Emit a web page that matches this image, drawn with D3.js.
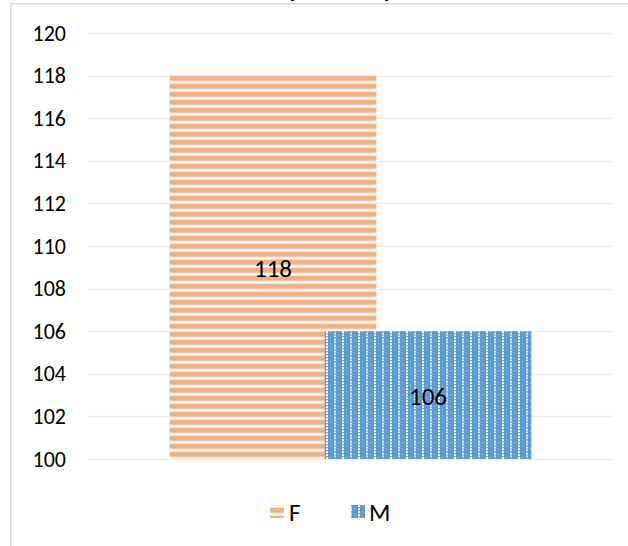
<!DOCTYPE html>
<html>
<head>
<meta charset="utf-8">
<script src="https://cdn.jsdelivr.net/npm/d3@7"></script>
<style>
html,body{margin:0;padding:0;background:#fff;}
svg{display:block;}
text{font-family:Carlito,Calibri,Lato,sans-serif;}
</style>
</head>
<body>
<svg id="chart" width="628" height="546"></svg>
<script>
// ---- data ----
const categories = [""];
const seriesNames = ["F", "M"];
const seriesValues = [118, 106];
const yTicks = [100, 102, 104, 106, 108, 110, 112, 114, 116, 118, 120];
const titleText = "Comparaison par sexe";

const svg = d3.select("#chart");
const W = 628, H = 546;
const plot = {left: 88, right: 613, top: 33, bottom: 459};

// frame of the chart area (cropped)
svg.append("path")
  .attr("d", `M10.75,${H + 5} L10.75,3.75 L${W + 5},3.75`)
  .attr("fill", "none").attr("stroke", "#D9D9D9").attr("stroke-width", 1.5);

// title (mostly cropped off above the picture)
const title = svg.append("text")
  .text(titleText)
  .attr("font-weight", "bold")
  .attr("font-size", 24)
  .attr("fill", "#000")
  .attr("y", -3.5);
(function placeTitle(){
  const node = title.node();
  const idx1 = titleText.indexOf("p");
  const idx2 = titleText.indexOf("p", idx1 + 1);
  let fs = 24;
  const d0 = node.getStartPositionOfChar(idx2).x - node.getStartPositionOfChar(idx1).x;
  fs = fs * 94 / d0;
  title.attr("font-size", fs);
  const x1 = node.getStartPositionOfChar(idx1).x;
  title.attr("x", 292 - x1 - fs * 0.1);
  title.attr("y", 2 - fs * 0.22);
})();

// scales
const y = d3.scaleLinear().domain([100, 120]).range([plot.bottom, plot.top]);
const xCat = d3.scaleBand().domain(categories).range([plot.left, plot.right]).padding(0);

// patterns
const defs = svg.append("defs");
const pF = defs.append("pattern").attr("id", "patF")
  .attr("patternUnits", "userSpaceOnUse")
  .attr("width", 8).attr("height", 8)
  .attr("y", y(seriesValues[0]));
pF.append("rect").attr("width", 8).attr("height", 8).attr("fill", "#fff");
pF.append("rect").attr("width", 8).attr("height", 5.3).attr("fill", "#F4B183");
pF.append("rect").attr("y", 5.3).attr("width", 8).attr("height", 0.7).attr("fill", "#FBE0CD");

const pM = defs.append("pattern").attr("id", "patM")
  .attr("patternUnits", "userSpaceOnUse")
  .attr("width", 16).attr("height", 6)
  .attr("x", 325).attr("y", y(seriesValues[1]));
pM.append("rect").attr("width", 16).attr("height", 6).attr("fill", "#5B9BD5");
pM.append("rect").attr("x", 1).attr("y", 0).attr("width", 2).attr("height", 2).attr("fill", "#fff");
pM.append("rect").attr("x", 1).attr("y", 3).attr("width", 2).attr("height", 2).attr("fill", "#fff");
pM.append("rect").attr("x", 9).attr("y", 1.5).attr("width", 2).attr("height", 2).attr("fill", "#fff").attr("opacity", 0.85);
pM.append("rect").attr("x", 9).attr("y", 4.5).attr("width", 2).attr("height", 1.5).attr("fill", "#fff").attr("opacity", 0.85);
pM.append("rect").attr("x", 5).attr("y", 0).attr("width", 1).attr("height", 1).attr("fill", "#BDD7EE");
pM.append("rect").attr("x", 13).attr("y", 3).attr("width", 1).attr("height", 1).attr("fill", "#BDD7EE");

const fills = ["url(#patF)", "url(#patM)"];

// gridlines
svg.append("g").selectAll("line").data(yTicks).join("line")
  .attr("x1", plot.left).attr("x2", plot.right)
  .attr("y1", d => Math.round(y(d)) + 0.5).attr("y2", d => Math.round(y(d)) + 0.5)
  .attr("stroke", "#EDEDED").attr("stroke-width", 1.5);

// y axis labels
const yAxis = d3.axisLeft(y).tickValues(yTicks).tickSize(0).tickPadding(0);
const gy = svg.append("g").attr("transform", `translate(66,0)`).call(yAxis);
gy.select(".domain").remove();
gy.selectAll("text").attr("font-size", 22).attr("fill", "#000")
  .attr("font-family", "Carlito,Calibri,Lato,sans-serif");

// bars: gap width 79%, overlap 25%
const gapW = 0.79, overlap = 0.25, n = seriesNames.length;
const band = xCat.bandwidth();
const barW = band / (gapW + n - (n - 1) * overlap);
const groupStart = xCat(categories[0]) + barW * gapW / 2;
const barX = i => groupStart + i * barW * (1 - overlap);

const barData = seriesNames.map((s, i) => ({name: s, value: seriesValues[i], i}));
svg.append("g").selectAll("rect").data(barData).join("rect")
  .attr("x", d => barX(d.i))
  .attr("width", barW)
  .attr("y", d => y(d.value))
  .attr("height", d => y(100) - y(d.value))
  .attr("fill", (d, i) => fills[i]);

// data labels
svg.append("g").selectAll("text").data(barData).join("text")
  .attr("x", d => barX(d.i) + barW / 2)
  .attr("y", d => (y(d.value) + y(100)) / 2 + 1)
  .attr("text-anchor", "middle").attr("dominant-baseline", "central")
  .attr("font-size", 25).attr("fill", "#000")
  .text(d => d.value);

// legend
const legendItems = [{x: 270, tx: 289}, {x: 351, tx: 369}];
const lg = svg.append("g");
seriesNames.forEach((s, i) => {
  lg.append("rect").attr("x", legendItems[i].x).attr("y", 505)
    .attr("width", 14).attr("height", 13).attr("fill", fills[i]);
  lg.append("text").attr("x", legendItems[i].tx).attr("y", 512)
    .attr("dominant-baseline", "central")
    .attr("font-size", 25).attr("fill", "#000").text(s);
});
</script>
</body>
</html>
